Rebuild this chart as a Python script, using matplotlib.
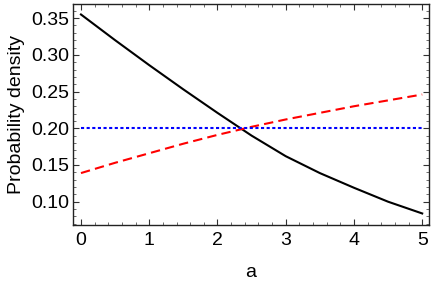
import numpy as np
import matplotlib as mpl
import matplotlib.pyplot as plt
from matplotlib.ticker import MultipleLocator

mpl.rcParams.update({
    "font.family": ["Liberation Sans", "DejaVu Sans"],
    "font.size": 14,
    "xtick.direction": "in",
    "ytick.direction": "in",
    "xtick.top": True,
    "ytick.right": True,
})

# values
a = [0.0, 0.5, 1.0, 1.5, 2.0, 2.5, 3.0, 3.5, 4.0, 4.5, 5.0]
black_density = [0.355, 0.320, 0.286, 0.253, 0.221, 0.190, 0.162, 0.139, 0.119, 0.100, 0.084]
red_density = [0.139, 0.153, 0.166, 0.179, 0.191, 0.202, 0.212, 0.221, 0.230, 0.238, 0.246]
blue_level = 0.2

fig = plt.figure(figsize=(4.36, 2.88), dpi=100)
ax = fig.add_axes([0.1674, 0.2188, 0.8166, 0.7674])

ax.plot(a, black_density, color="black", lw=1.5)
ax.plot(a, red_density, color=(1, 0, 0), lw=1.5, dashes=(4.5, 2.5))
ax.plot([a[0], a[-1]], [blue_level, blue_level], color=(0, 0, 1), lw=1.5, dashes=(1.5, 1.2))

ax.set_xlim(-0.117, 5.10)
ax.set_ylim(0.0683, 0.3693)
ax.xaxis.set_major_locator(MultipleLocator(1))
ax.xaxis.set_minor_locator(MultipleLocator(0.2))
ax.yaxis.set_major_locator(MultipleLocator(0.05))
ax.yaxis.set_minor_locator(MultipleLocator(0.01))
ax.yaxis.set_major_formatter(mpl.ticker.FormatStrFormatter("%.2f"))
ax.tick_params(which="major", length=4, width=0.8, color="#333333", pad=3)
ax.tick_params(which="minor", length=2, width=0.6, color="#555555")
ax.tick_params(axis="x", pad=5)

for s in ax.spines.values():
    s.set_linewidth(1.0)
    s.set_color("#222222")

ax.set_xlabel("a", labelpad=11)
ax.set_ylabel("Probability density", labelpad=4)

fig.savefig("out.png", dpi=100)
plt.close()
